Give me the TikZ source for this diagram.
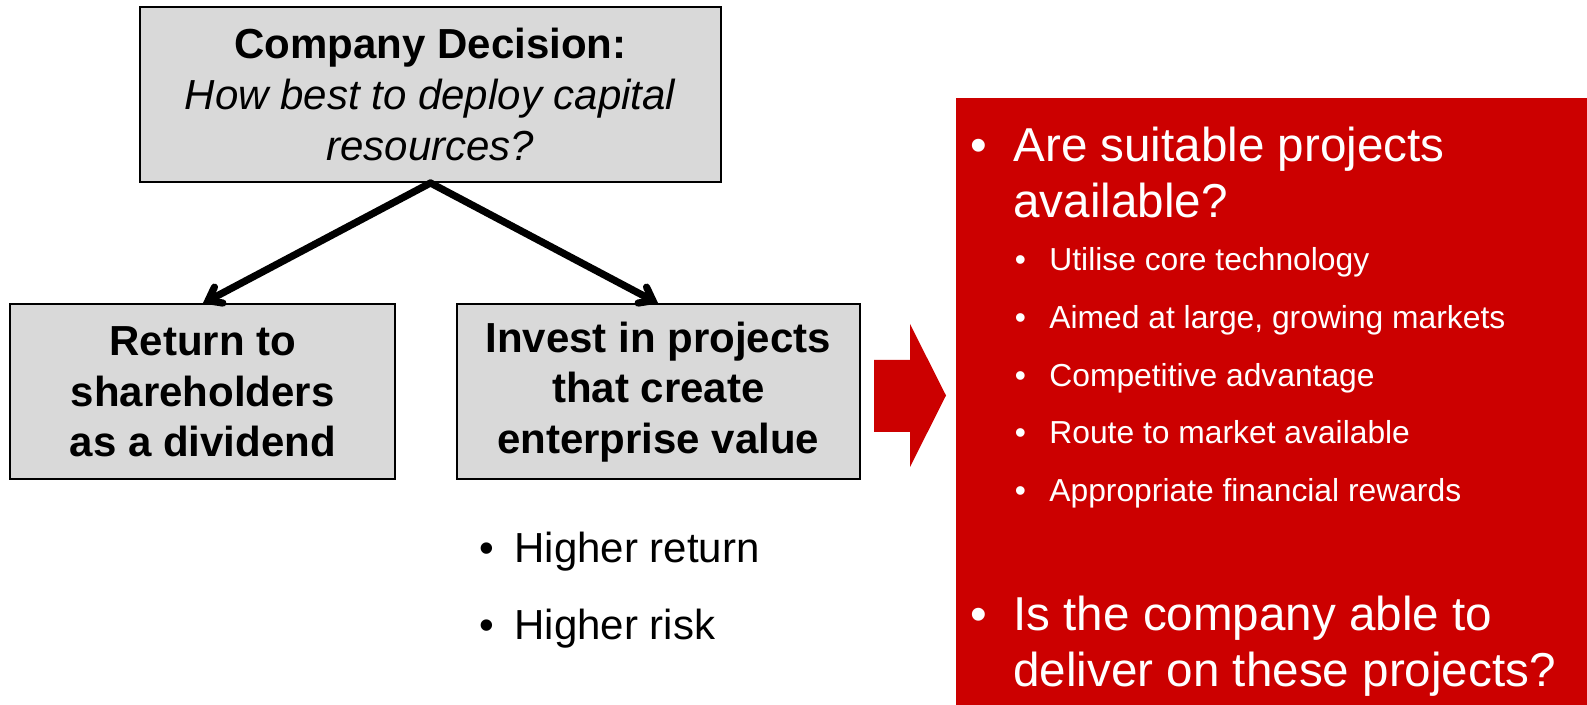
\documentclass[tikz,border=0pt]{standalone}
\usepackage{fontspec}
\setmainfont{Liberation Sans}
\usetikzlibrary{arrows.meta}
\definecolor{panelred}{HTML}{CC0000}
\definecolor{boxgray}{HTML}{D9D9D9}
\begin{document}
\begin{tikzpicture}[
    x=0.5pt, y=-0.5pt,
    level distance=148.75pt,
    sibling distance=227.75pt,
    every node/.style={align=center, inner sep=0pt},
    decision box/.style={draw, line width=1pt, fill=boxgray, minimum height=87.5pt,
      font=\fontsize{21}{25.3}\selectfont},
    decision edge/.style={line width=3.6pt, line cap=round,
      -{Straight Barb[length=6pt,width=9pt,line cap=round]}},
    edge from parent/.style={draw=none},
    big item/.style={anchor=base west, text=white, font=\fontsize{23.8}{27.8}\selectfont},
    small item/.style={anchor=base west, text=white, font=\fontsize{15.9}{19}\selectfont},
    plain item/.style={anchor=base west, font=\fontsize{21}{25}\selectfont}
  ]
  \useasboundingbox (0,0) rectangle (1587,705);
  \node[decision box, minimum width=290.5pt] (decision) at (430.5,94.5) {
      \textbf{Company Decision:}\\
      \textit{How best to deploy capital}\\
      \textit{resources?}
    }
    child {
      node[decision box, minimum width=192.5pt] (dividend) {
        \textbf{Return to}\\
        \textbf{shareholders}\\
        \textbf{as a dividend}
      }
    }
    child {
      node[decision box, minimum width=201.5pt] (invest) {
        \textbf{Invest in projects}\\
        \textbf{that create}\\
        \textbf{enterprise value}
      }
    };
  \draw[decision edge] (decision.south) -- (dividend.north);
  \draw[decision edge] (decision.south) -- (invest.north);
  \node[plain item] (return bullet) at (478.6,563) {•};
  \node[plain item] (return) at (514,563) {Higher return};
  \node[plain item] (risk bullet) at (478.6,640) {•};
  \node[plain item] (risk) at (514,640) {Higher risk};
  \fill[panelred] (874,360) -- (910,360) -- (910,324) -- (946,395.5)
    -- (910,467) -- (910,432) -- (874,432) -- cycle;
  \fill[panelred] (956,98) rectangle (1587,705);
  \node[big item] (projects bullet) at (970,162) {•};
  \node[big item] (projects) at (1013,162) {Are suitable projects};
  \node[big item] (projects2) at (1013,217.6) {available?};
  \foreach \y/\t [count=\i] in {271/Utilise core technology,
      329/{Aimed at large, growing markets},
      386.5/Competitive advantage,
      444/Route to market available,
      502/Appropriate financial rewards} {
    \node[small item] (criterion bullet \i) at (1014.5,\y) {•};
    \node[small item] (criterion \i) at (1049,\y) {\t};
  }
  \node[big item] (deliver bullet) at (970,630.5) {•};
  \node[big item] (deliver) at (1013,630.5) {Is the company able to};
  \node[big item] (deliver2) at (1013,687) {deliver on these projects?};
\end{tikzpicture}
\end{document}
